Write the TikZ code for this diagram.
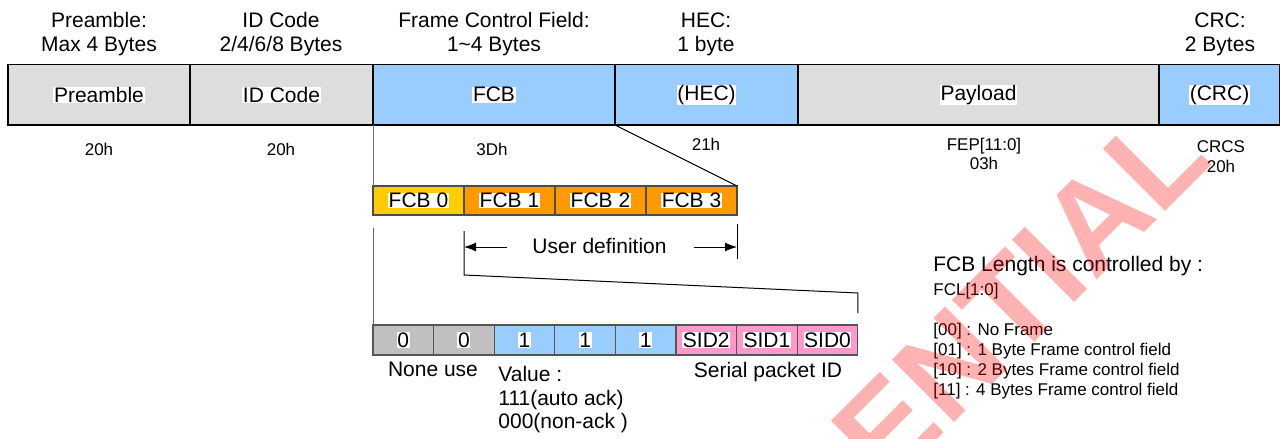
\documentclass[tikz,border=0pt]{standalone}
\usepackage{fontspec}
\setmainfont{Liberation Sans}
\usetikzlibrary{arrows.meta,calc}
\definecolor{topgray}{HTML}{DDDDDD}
\definecolor{skyb}{HTML}{99CCFF}
\definecolor{fcbyel}{HTML}{FFCC00}
\definecolor{fcbor}{HTML}{FF9900}
\definecolor{bitgray}{HTML}{C0C0C0}
\definecolor{sidpink}{HTML}{FF99CC}
\definecolor{bitline}{HTML}{555555}
\begin{document}
\begin{tikzpicture}[x=0.5pt,y=-0.5pt,
  field/.style={draw=black, line width=0.6pt, anchor=north west, inner sep=0, outer sep=0, minimum height=30.25pt},
  fcbbox/.style={draw=black!70, line width=0.6pt, anchor=north west, inner sep=0, outer sep=0, minimum height=14.5pt, minimum width=45.5pt, fill=fcbor},
  bitbox/.style={draw=bitline, line width=0.6pt, anchor=north west, inner sep=0, outer sep=0, minimum height=15pt, minimum width=30.3pt},
  lbl/.style={fill=white, inner xsep=0.3pt, inner ysep=0.2pt, font=\fontsize{10.5}{12}\selectfont},
  big/.style={font=\fontsize{10.5}{12}\selectfont, inner sep=0, anchor=base},
  bigl/.style={font=\fontsize{10.5}{12}\selectfont, inner sep=0, anchor=base west},
  small/.style={font=\fontsize{8.5}{10}\selectfont, inner sep=0, anchor=base},
  smalll/.style={font=\fontsize{8.5}{10}\selectfont, inner sep=0, anchor=base west},
  conn/.style={draw=black, line width=0.5pt},
  arr/.style={draw=black, line width=0.5pt, -{Latex[length=6pt,width=4.5pt]}}
]
\useasboundingbox (0,0) rectangle (1280,439);
\fill[white] (0,0) rectangle (1280,439);

% header texts
\node[big] (h1a) at (99,27.5) {Preamble:};
\node[big] (h1b) at (99,51.5) {Max 4 Bytes};
\node[big] (h2a) at (281,27.5) {ID Code};
\node[big] (h2b) at (281,51.5) {2/4/6/8 Bytes};
\node[big] (h3a) at (494,27.5) {Frame Control Field:};
\node[big] (h3b) at (494,51.5) {1\char`~4 Bytes};
\node[big] (h4a) at (706,27.5) {HEC:};
\node[big] (h4b) at (706,51.5) {1 byte};
\node[big] (h5a) at (1220,27.5) {CRC:};
\node[big] (h5b) at (1220,51.5) {2 Bytes};

% top frame row
\node[field, fill=topgray, minimum width=91pt] (pre) at (8,64.5) {};
\node[field, fill=topgray, minimum width=91.5pt] (idc) at (190,64.5) {};
\node[field, fill=skyb, minimum width=121pt] (fcb) at (373,64.5) {};
\node[field, fill=skyb, minimum width=91.5pt] (hec) at (615,64.5) {};
\node[field, fill=topgray, minimum width=180.5pt] (pay) at (798,64.5) {};
\node[field, fill=skyb, minimum width=60.5pt] (crc) at (1159,64.5) {};
\node[lbl] (tpre) at (pre) {Preamble};
\node[lbl] (tidc) at (idc) {ID Code};
\node[lbl] (tfcb) at (fcb) {FCB};
\node[lbl] (thec) at (hec) {(HEC)};
\node[lbl] (tpay) at (pay) {Payload};
\node[lbl] (tcrc) at (crc) {(CRC)};

% values below
\node[small] (v1) at (99,155) {20h};
\node[small] (v2) at (281,155) {20h};
\node[small] (v3) at (492,155) {3Dh};
\node[small] (v4) at (706,150) {21h};
\node[small] (v5a) at (984,150) {FEP[11:0]};
\node[small] (v5b) at (984,169) {03h};
\node[small] (v6a) at (1221,152) {CRCS};
\node[small] (v6b) at (1221,172) {20h};

% FCB bytes
\node[fcbbox, fill=fcbyel] (f0) at (373,186) {};
\node[fcbbox] (f1) at (464,186) {};
\node[fcbbox] (f2) at (555,186) {};
\node[fcbbox] (f3) at (646,186) {};
\node[lbl] (tf0) at (f0) {FCB 0};
\node[lbl] (tf1) at (f1) {FCB 1};
\node[lbl] (tf2) at (f2) {FCB 2};
\node[lbl] (tf3) at (f3) {FCB 3};

% zoom connectors
\draw[conn, draw=black!55] (fcb.south west) -- (f0.north west);
\draw[conn] (hec.south west) -- (f3.north east);

% user definition
\coordinate (ua) at ($(f1.south west)+(0,16)$);
\coordinate (ub) at ($(f3.south east)+(0,9)$);
\coordinate (uc) at ($(f3.south east)+(0,44)$);
\coordinate (ul) at (464,247);
\coordinate (ul2) at (507,247);
\coordinate (ur) at (737,247);
\coordinate (ur2) at (694,247);
\draw[conn] (ub) -- (uc);
\draw[arr] (ul2) -- (ul);
\draw[arr] (ur2) -- (ur);
\node[big] (udef) at (599.5,253) {User definition};

% bit row
\node[bitbox, fill=bitgray] (b7) at (373,325) {};
\node[bitbox, fill=bitgray] (b6) at (433.6,325) {};
\node[bitbox, fill=skyb] (b5) at (494.2,325) {};
\node[bitbox, fill=skyb] (b4) at (554.8,325) {};
\node[bitbox, fill=skyb] (b3) at (615.4,325) {};
\node[bitbox, fill=sidpink] (b2) at (676,325) {};
\node[bitbox, fill=sidpink] (b1) at (736.6,325) {};
\node[bitbox, fill=sidpink] (b0) at (797.2,325) {};
\node[lbl] (tb7) at (b7) {0};
\node[lbl] (tb6) at (b6) {0};
\node[lbl] (tb5) at (b5) {1};
\node[lbl] (tb4) at (b4) {1};
\node[lbl] (tb3) at (b3) {1};
\node[lbl] (tb2) at (b2) {SID2};
\node[lbl] (tb1) at (b1) {SID1};
\node[lbl] (tb0) at (b0) {SID0};

\draw[conn, draw=black!60] ($(f0.south west)+(0,13)$) -- (b7.north west);
\draw[conn] (ua) -- ($(f1.south west)+(0,60)$) -- ($(b0.north east)+(0,-32)$) -- ($(b0.north east)+(0,-12)$);

\node[big] (nu) at (433,376) {None use};
\node[bigl] (va1) at (498,381) {Value :};
\node[bigl] (va2) at (498,405) {111(auto ack)};
\node[bigl] (va3) at (498,428.5) {000(non-ack )};
\node[big] (spi) at (768,377) {Serial packet ID};

% right text block
\node[bigl] (r1) at (933,271) {FCB Length is controlled by :};
\node[smalll] (r2) at (933,295) {FCL[1:0]};
\node[smalll] (r3) at (933,335) {[00] : No Frame};
\node[smalll] (r4) at (933,355) {[01] : 1 Byte Frame control field};
\node[smalll] (r5) at (933,375) {[10] : 2 Bytes Frame control field};
\node[smalll] (r6) at (933,395) {[11] : 4 Bytes Frame control field};

% watermark
\begin{scope}
\clip (0,0) rectangle (1280,439);
\node[anchor=base east, inner sep=0, rotate=45, text=red, text opacity=0.3,
  font=\fontsize{64}{64}\bfseries\selectfont] (wm) at (1215,162) {CONFIDENTIAL};
\end{scope}
\end{tikzpicture}
\end{document}
